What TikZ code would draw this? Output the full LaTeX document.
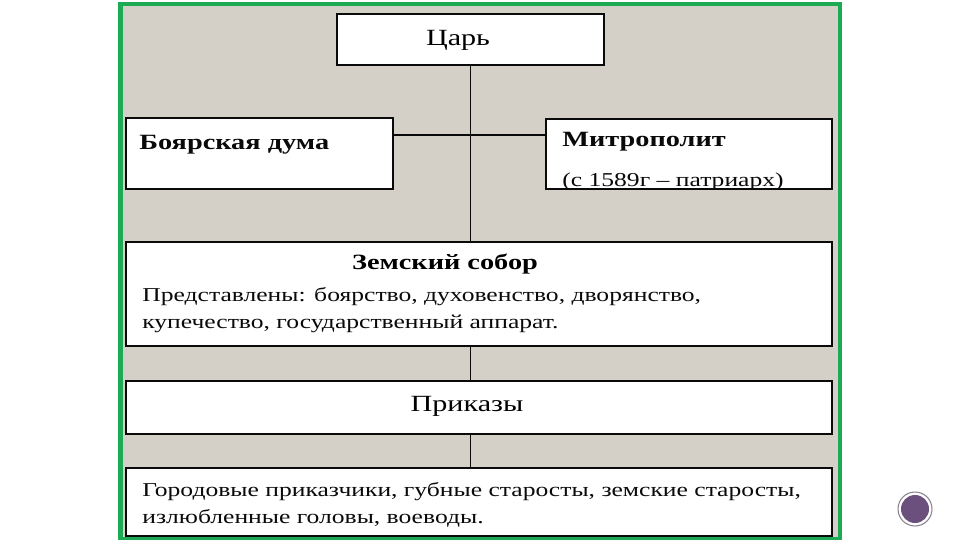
\documentclass[tikz,border=0pt]{standalone}
\usepackage{fontspec}
\setmainfont[FakeStretch=1.3]{Liberation Serif}
\usepackage{tikz}
\usetikzlibrary{calc,positioning,backgrounds}
\definecolor{frame}{HTML}{1DAA54}
\definecolor{panel}{HTML}{D4D0C8}
\definecolor{ink}{HTML}{0A0A0A}
\definecolor{badge}{HTML}{6B4F7C}
\definecolor{badgering}{HTML}{8A8290}
\newcommand{\headfont}{\fontsize{13.2}{16}\selectfont}
\newcommand{\boldfont}{\fontsize{12.4}{15}\selectfont\bfseries}
\newcommand{\bodyfont}{\fontsize{11.2}{15.9}\selectfont}

\begin{document}
\begin{tikzpicture}[x=0.02cm, y=-0.02cm,
  box/.style={draw=ink, fill=white, line width=1.1pt, anchor=north west, inner sep=0pt},
  lbl/.style={anchor=base west, inner sep=0pt, text=ink},
  link/.style={draw=ink, line width=0.6pt}]
  \useasboundingbox (0,0) rectangle (960,540);
  \begin{scope}[on background layer]
    \fill[white] (0,0) rectangle (960,540);
    \draw[frame, line width=2.8pt, fill=panel] (120.5,4) rectangle (840,539.5);
  \end{scope}

  % top level
  \node[box, minimum width=5.34cm, minimum height=1.02cm] (tsar) at (336,13) {};
  \node[anchor=base, inner sep=0pt] (tsartext) at (458,46) {\headfont Царь};
  \node[box, minimum width=5.34cm, minimum height=1.42cm] (duma) at (125,117) {};
  \node[lbl] (dumatext) at (139,150) {\boldfont Боярская дума};
  \node[box, minimum width=5.72cm, minimum height=1.40cm] (metro) at (545,118) {};
  \node[lbl] (metrotext) at (562,147) {\boldfont Митрополит};
  \begin{scope}
    \clip (metro.north west) rectangle (metro.south east);
    \node[lbl] (metronote) at (562,187) {\bodyfont (с 1589г – патриарх)};
  \end{scope}

  % sobor
  \node[box, minimum width=14.12cm, minimum height=2.08cm] (sobor) at (125,241) {};
  \node[anchor=base, inner sep=0pt] (sobortitle) at (445,270) {\boldfont Земский собор};
  \node[lbl] (soborline1) at (142,302) {\bodyfont Представлены: боярство, духовенство, дворянство,};
  \node[lbl] (soborline2) at (142,329) {\bodyfont купечество, государственный аппарат.};

  % prikazy and local
  \node[box, minimum width=14.12cm, minimum height=1.06cm] (prikazy) at (125,380) {};
  \node[anchor=base, inner sep=0pt] (prikazytext) at (467,412) {\headfont Приказы};
  \node[box, minimum width=14.12cm, minimum height=1.36cm] (local) at (125,467) {};
  \node[lbl] (localline1) at (142,496) {\bodyfont Городовые приказчики, губные старосты, земские старосты,};
  \node[lbl] (localline2) at (142,523) {\bodyfont излюбленные головы, воеводы.};

  \coordinate (dumajoin) at ($(duma.north east)+(0,18)$);
  \begin{scope}[on background layer]
    \draw[link] (tsar.south) -- (tsar.south |- local.north);
    \draw[link] (dumajoin) -- (dumajoin -| metro.west);
  \end{scope}

  % badge
  \node[circle, draw=badgering, fill=white, line width=0.6pt, minimum size=0.68cm, inner sep=0pt] (badge) at (915,509) {};
  \node[circle, fill=badge, minimum size=0.56cm, inner sep=0pt] (badgecore) at (badge) {};
\end{tikzpicture}
\end{document}
